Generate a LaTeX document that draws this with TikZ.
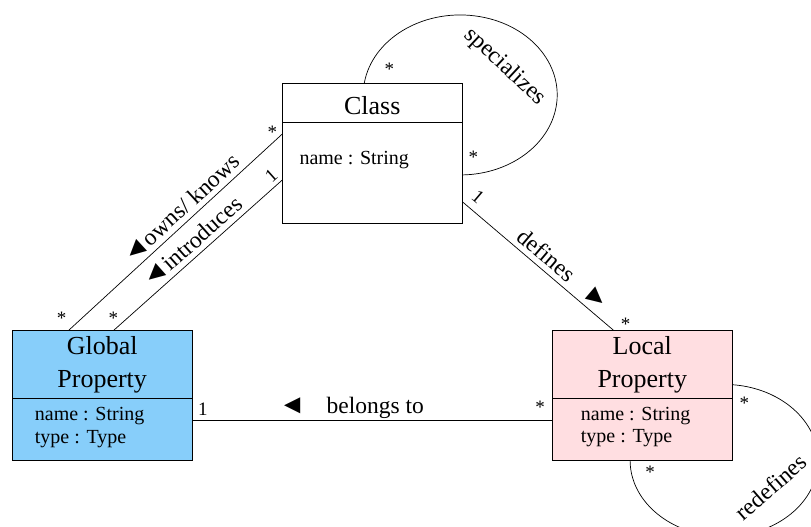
\documentclass[tikz,border=0pt]{standalone}
\usepackage{fontspec}
\setmainfont{Liberation Serif}
\usetikzlibrary{positioning,calc}

\definecolor{globalblue}{RGB}{135,206,250}
\definecolor{localpink}{RGB}{255,222,225}

\newcommand{\lefttri}{{\fontsize{27}{27}\selectfont ◄}}
\newcommand{\righttri}{{\fontsize{27}{27}\selectfont ►}}

\tikzset{
  classhead/.style={draw=black, line width=0.8pt, outer sep=0pt, inner sep=0pt, minimum width=180pt, align=center,
    font=\fontsize{26}{32.4}\selectfont, execute at begin node={\rule{0pt}{24pt}}},
  classbody/.style={draw=black, line width=0.8pt, outer sep=0pt, inner sep=0pt, minimum width=180pt},
  attr/.style={anchor=base west, inner sep=0pt, font=\fontsize{20}{22.6}\selectfont},
  assoc/.style={inner sep=2pt, font=\fontsize{23.5}{28}\selectfont},
  mult/.style={inner sep=1.5pt, font=\fontsize{19}{19}\selectfont},
  link/.style={draw=black, line width=0.7pt},
}

\begin{document}
\begin{tikzpicture}[x=1pt,y=1pt]
\useasboundingbox (0,0) rectangle (811,527);

% classes
\node[classhead, minimum height=39.3pt] (cls) at (372.3,424.35) {Class};
\node[classbody, minimum height=100.7pt, below=0pt of cls] (clsbody) {};
\node[classhead, fill=globalblue, minimum height=68pt] (gp) at (102.2,162.3) {Global\\Property};
\node[classbody, fill=globalblue, minimum height=61.3pt, below=0pt of gp] (gpbody) {};
\node[classhead, fill=localpink, minimum height=68pt] (lp) at (642.3,162.3) {Local\\Property};
\node[classbody, fill=localpink, minimum height=61.3pt, below=0pt of lp] (lpbody) {};

% attributes
\node[attr] (clsname) at ([xshift=17pt,yshift=-42.7pt]clsbody.north west) {name : String};
\node[attr] (gpname) at ([xshift=22.5pt,yshift=-22pt]gpbody.north west) {name : String};
\node[attr] (gptype) at ([yshift=-22.6pt]gpname.base west) {type : Type};
\node[attr] (lpname) at ([xshift=28.4pt,yshift=-21.7pt]lpbody.north west) {name : String};
\node[attr] (lptype) at ([yshift=-22.6pt]lpname.base west) {type : Type};

% associations
\draw[link] ([yshift=-11.7pt]clsbody.north west) -- ([xshift=56.1pt]gp.north west)
  node[assoc, pos=.43, sloped, above, inner sep=5pt] (ownslabel) {\lefttri owns/ knows}
  node[mult, pos=0, xshift=-10pt, yshift=1.5pt] (ownsm1) {*}
  node[mult, pos=1, xshift=-6.6pt, yshift=12.5pt] (ownsm2) {*};
\draw[link] ([yshift=-57.7pt]clsbody.north west) -- ([xshift=101.1pt]gp.north west)
  node[assoc, pos=.48, sloped, above, inner sep=5pt] (introlabel) {\lefttri introduces}
  node[mult, pos=.0235, sloped, above, inner sep=4pt] (introm1) {1}
  node[mult, pos=1, yshift=12.5pt] (introm2) {*};
\draw[link] ([yshift=-79.4pt]clsbody.north east) -- ([xshift=-28.3pt]lp.north)
  node[assoc, pos=.61, sloped, above, inner sep=5pt] (deflabel) {defines\hspace{0.8em}\righttri}
  node[mult, pos=.045, sloped, above, inner sep=7pt] (defm1) {1}
  node[mult, pos=1, xshift=11.7pt, yshift=6.5pt] (defm2) {*};
\draw[link] ([yshift=9pt]gpbody.east) -- ([yshift=9pt]gpbody.east -| lpbody.west)
  node[assoc, pos=.442, above, inner sep=1pt] (belonglabel) {\lefttri\hspace{0.9em}belongs to}
  node[mult, pos=0, xshift=10.7pt, yshift=11.5pt] (belongm1) {1}
  node[mult, pos=1, xshift=-12.3pt, yshift=13pt] (belongm2) {*};

% self associations
\draw[link] ([xshift=-8pt]cls.north) arc[start angle=171.4, end angle=-88.6, x radius=97pt, y radius=80pt];
\node[assoc, rotate=-43, inner sep=0pt] (speclabel) at ([xshift=42.7pt,yshift=16pt]cls.north east) {specializes};
\node[mult] (specm1) at ([xshift=17pt,yshift=13.8pt]cls.north) {*};
\node[mult] (specm2) at ([xshift=11pt,yshift=-35.2pt]clsbody.north east) {*};

\draw[link] ([yshift=14pt]lp.south east) arc[start angle=85, end angle=-180, x radius=94pt, y radius=76pt];
\node[assoc, rotate=41, inner sep=0pt] (redeflabel) at ([xshift=38.5pt,yshift=-27pt]lpbody.south east) {redefines};
\node[mult] (redefm1) at ([xshift=12pt,yshift=-4.2pt]lp.south east) {*};
\node[mult] (redefm2) at ([xshift=7.7pt,yshift=-12.5pt]lpbody.south) {*};
\end{tikzpicture}
\end{document}
